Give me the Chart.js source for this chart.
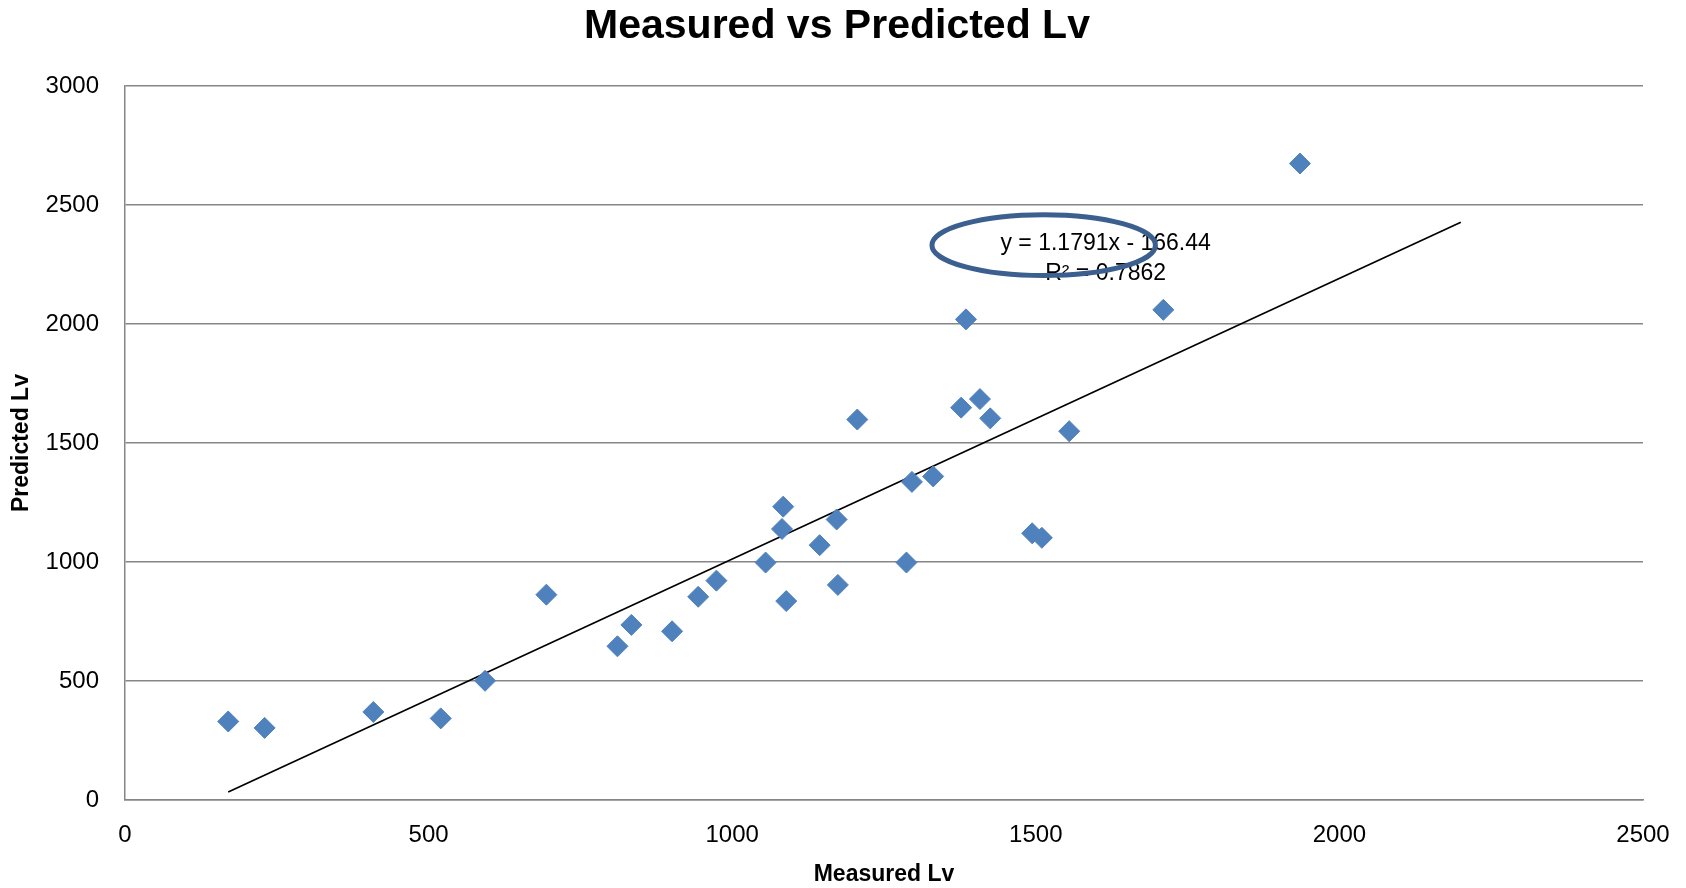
<!DOCTYPE html>
<html>
<head>
<meta charset="utf-8">
<script src="https://cdn.jsdelivr.net/npm/chart.js@4"></script>
<style>
html,body{margin:0;padding:0;background:#fff;}
#wrap{width:1686px;height:888px;}
</style>
</head>
<body>
<div id="wrap"><canvas id="chart" width="1686" height="888"></canvas></div>
<script>
// values
const measured  = [170, 230, 409, 520, 593, 694, 811, 834, 901, 944, 974, 1055, 1084, 1082, 1089, 1144, 1172, 1174, 1206, 1287, 1296, 1331, 1377, 1385, 1408, 1425, 1494, 1510, 1555, 1710, 1935];
const predicted = [330, 303, 370, 343, 501, 863, 646, 736, 709, 854, 922, 998, 1233, 1139, 836, 1071, 1179, 904, 1599, 998, 1337, 1360, 1649, 2020, 1685, 1604, 1121, 1102, 1550, 2060, 2675];
const trendX = [170, 2200];
const trendY = [34, 2428];
const eqLines = ['y = 1.1791x - 166.44', 'R\u00b2 = 0.7862'];
const eqPos = {x: 1615, y: [2340, 2214]};
const ring = {x: 1513, y: 2332, rx: 184, ry: 128};

const gridGray = '#868686';
const font = 'Liberation Sans, Arial, sans-serif';

const points = measured.map((m, i) => ({x: m, y: predicted[i]}));
const trend = trendX.map((t, i) => ({x: t, y: trendY[i]}));

// equation label + the hand drawn ring round it
const notePlugin = {
  id: 'note',
  afterDatasetsDraw(chart){
    const {ctx, scales:{x, y}} = chart;
    ctx.save();
    ctx.fillStyle = '#000';
    ctx.font = '23px ' + font;
    ctx.textAlign = 'center';
    ctx.textBaseline = 'middle';
    eqLines.forEach((t, i) => ctx.fillText(t, x.getPixelForValue(eqPos.x), y.getPixelForValue(eqPos.y[i])));
    const cx = x.getPixelForValue(ring.x), cy = y.getPixelForValue(ring.y);
    const rx = x.getPixelForValue(ring.x + ring.rx) - cx;
    const ry = cy - y.getPixelForValue(ring.y + ring.ry);
    ctx.beginPath();
    ctx.ellipse(cx, cy, rx, ry, 0, 0, Math.PI*2);
    ctx.strokeStyle = '#3b5f8f';
    ctx.lineWidth = 5;
    ctx.stroke();
    ctx.restore();
  }
};

const plain = v => String(v);

new Chart(document.getElementById('chart'), {
  type: 'scatter',
  data: {
    datasets: [
      {data: points, pointStyle: 'rectRot', pointRadius: 10.5, pointHoverRadius: 10.5,
       backgroundColor: '#4f81bd', borderColor: '#4f81bd', borderWidth: 1, order: 1},
      {data: trend, showLine: true, borderColor: '#000', borderWidth: 1.7, pointRadius: 0, order: 2}
    ]
  },
  options: {
    responsive: false,
    animation: false,
    devicePixelRatio: 1,
    layout: {padding: {left: 0, right: 12, top: 0, bottom: 0}},
    plugins: {
      legend: {display: false},
      tooltip: {enabled: false},
      title: {display: true, text: 'Measured vs Predicted Lv', color: '#000',
        font: {family: font, size: 41, weight: 'bold', lineHeight: 1.2},
        padding: {top: 2, bottom: 35}}
    },
    scales: {
      x: {
        type: 'linear', min: 0, max: 2500,
        ticks: {stepSize: 500, color: '#000', padding: 21, font: {family: font, size: 24}, callback: plain},
        grid: {display: false, drawTicks: false},
        border: {display: true, color: gridGray, width: 1.5},
        title: {display: true, text: 'Measured Lv', color: '#000', padding: {top: 0, bottom: 0},
          font: {family: font, size: 23, weight: 'bold', lineHeight: 1.2}},
        afterFit(s){ s.height = 88; s.paddingRight = 43; }
      },
      y: {
        min: 0, max: 3000,
        ticks: {stepSize: 500, color: '#000', padding: 26, font: {family: font, size: 24}, callback: plain},
        grid: {color: gridGray, lineWidth: 1.5, drawTicks: false},
        border: {display: true, color: gridGray, width: 1.5},
        title: {display: true, text: 'Predicted Lv', color: '#000', padding: {top: 8, bottom: 0},
          font: {family: font, size: 23, weight: 'bold', lineHeight: 1.2}},
        afterFit(s){ s.width = 125; }
      }
    }
  },
  plugins: [notePlugin]
});
</script>
</body>
</html>
